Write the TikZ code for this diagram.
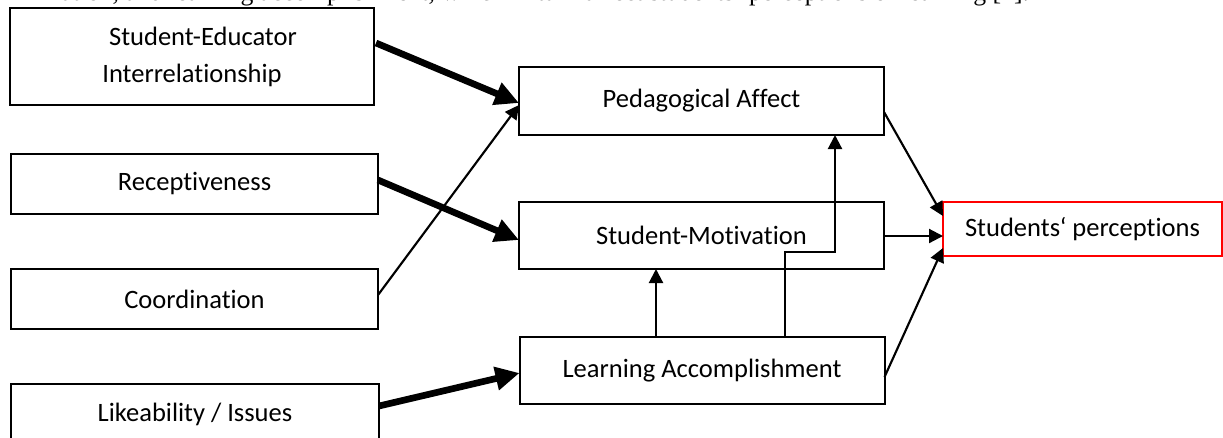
\documentclass[tikz,border=0pt]{standalone}
\usepackage{fontspec}
\setmainfont{Carlito}[Ligatures={NoCommon}]
\newfontfamily\bodyserif{Liberation Serif}
\usetikzlibrary{arrows.meta,calc}

\begin{document}
\begin{tikzpicture}[x=0.75pt,y=-0.75pt,
  box/.style={draw=black, line width=1.5pt, fill=white, rectangle,
    inner sep=0pt, outer sep=0pt, align=center,
    font=\fontsize{19.9}{27.75}\selectfont},
  goalbox/.style={box, draw=red},
  strong link/.style={line width=5pt, -{Triangle[length=18pt,width=17pt]}},
  weak link/.style={line width=1.6pt, -{Triangle[length=10.5pt,width=10.5pt]}},
  intro text/.style={anchor=base west, inner sep=0pt,
    font=\bodyserif\fontsize{19.3}{23}\selectfont}
]
\clip (0,0) rectangle (1223,437);

% tail of the sentence above the figure
\node[intro text] (intro) at (61,0.5)
  {ation, and learning accomplishment, which in turn affect students’ perceptions of learning [1].};

% factors
\node[box, minimum width=273pt, minimum height=72.75pt] (b1) at (192,56.5)
  {\hspace*{16.5pt}Student-Educator\\Interrelationship};
\node[box, minimum width=275.25pt, minimum height=45pt] (b2) at (194.5,184) {Receptiveness};
\node[box, minimum width=275.25pt, minimum height=45pt] (b3) at (194.5,299) {Coordination};
\node[box, minimum width=276pt, minimum height=45pt] (b4) at (195,414) {Likeability / Issues};

% mediators
\node[box, minimum width=273.75pt, minimum height=51pt] (pa) at (701.5,101) {Pedagogical Affect};
\node[box, minimum width=273.75pt, minimum height=50.25pt] (sm) at (701.5,235.5) {Student-Motivation};
\node[box, minimum width=273.75pt, minimum height=50.25pt] (la) at (702,370.5) {Learning Accomplishment};

% outcome
\node[goalbox, minimum width=209.25pt, minimum height=40.5pt] (sp) at (1082.5,229) {Students\symbol{96} perceptions};

% factor -> mediator links
\draw[strong link] ($(b1.east)+(2,-13.5)$) -- ($(pa.west)+(0,2)$);
\draw[strong link] ($(b2.east)+(0,-4)$) -- ($(sm.west)+(0,4.5)$);
\draw[weak link] ($(b3.east)+(0,-4)$) -- ($(pa.west)+(0,4)$);
\draw[strong link] ($(b4.east)+(0,-8)$) -- ($(la.west)+(0,2.5)$);

% mediator -> mediator links
\draw[weak link] ($(la.north)+(-46,0)$) -- ($(sm.south)+(-45.5,0)$);
\draw[weak link] ($(la.north)+(83,0)$) -- ++(0,-85) -| ($(pa.south)+(133.5,0)$);

% mediator -> outcome links
\draw[weak link] ($(pa.east)+(0,11)$) -- ($(sp.west)+(0,-13)$);
\draw[weak link] ($(sm.east)+(0,0.5)$) -- ($(sp.west)+(0,7)$);
\draw[weak link] ($(la.east)+(0,6.5)$) -- ($(sp.west)+(0,19)$);
\end{tikzpicture}
\end{document}
